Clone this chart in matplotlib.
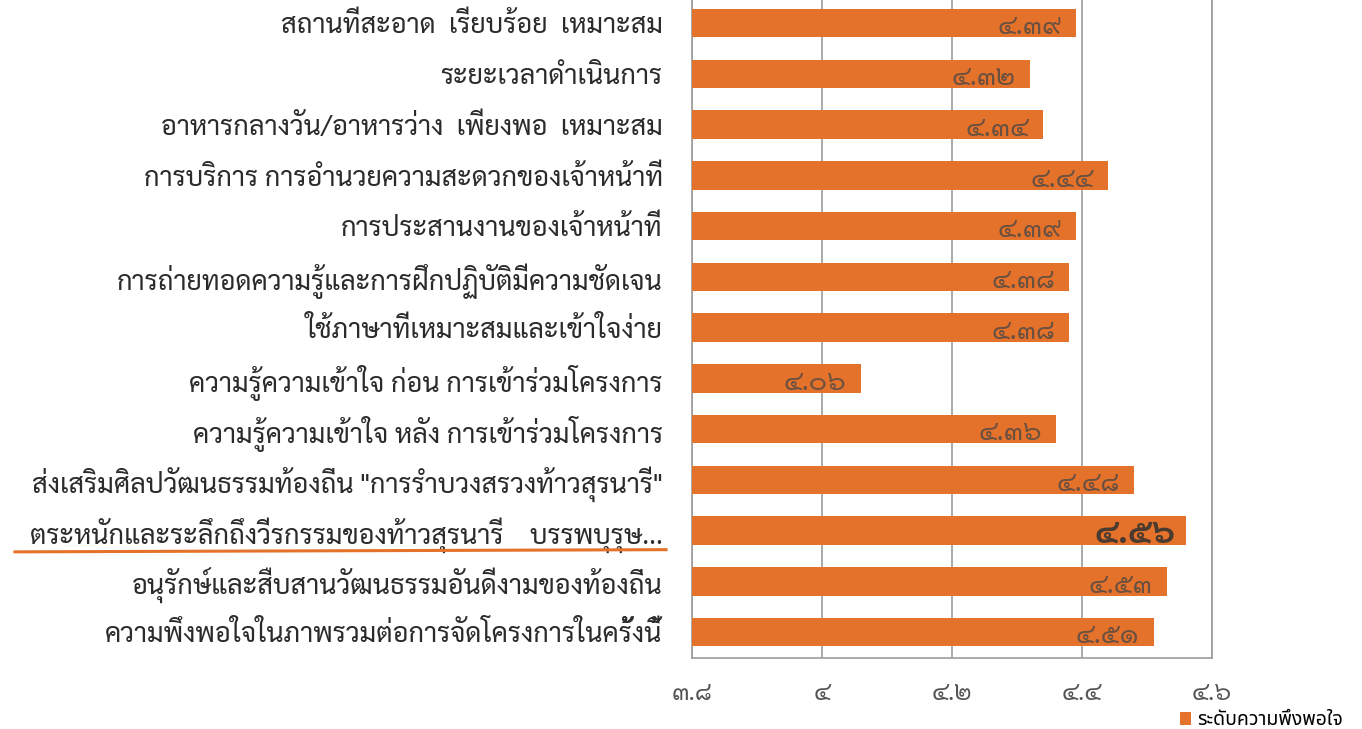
import matplotlib
matplotlib.use("Agg")
import matplotlib.pyplot as plt
from matplotlib.lines import Line2D
from matplotlib.patches import Patch

# data (top to bottom)
categories = [
    "สถานที่สะอาด  เรียบร้อย  เหมาะสม",
    "ระยะเวลาดำเนินการ",
    "อาหารกลางวัน/อาหารว่าง  เพียงพอ  เหมาะสม",
    "การบริการ การอำนวยความสะดวกของเจ้าหน้าที่",
    "การประสานงานของเจ้าหน้าที่",
    "การถ่ายทอดความรู้และการฝึกปฏิบัติมีความชัดเจน",
    "ใช้ภาษาที่เหมาะสมและเข้าใจง่าย",
    "ความรู้ความเข้าใจ ก่อน การเข้าร่วมโครงการ",
    "ความรู้ความเข้าใจ หลัง การเข้าร่วมโครงการ",
    "ส่งเสริมศิลปวัฒนธรรมท้องถิ่น \"การรำบวงสรวงท้าวสุรนารี\"",
    "ตระหนักและระลึกถึงวีรกรรมของท้าวสุรนารี    บรรพบุรุษ...",
    "อนุรักษ์และสืบสานวัฒนธรรมอันดีงามของท้องถิ่น",
    "ความพึงพอใจในภาพรวมต่อการจัดโครงการในครั้งนี้",
]
scores = [4.39, 4.32, 4.34, 4.44, 4.39, 4.38, 4.38, 4.06, 4.36, 4.48, 4.56, 4.53, 4.51]
x_ticks = [3.8, 4.0, 4.2, 4.4, 4.6]
x_tick_labels = ["๓.๘", "๔", "๔.๒", "๔.๔", "๔.๖"]
legend_label = "ระดับความพึงพอใจ"
highlight_index = 10  # the row that is underlined / bold in the scan

thai_digits = str.maketrans("0123456789", "๐๑๒๓๔๕๖๗๘๙")

orange = "#E5722A"
grid_color = "#9C9C9C"

plt.rcParams["font.family"] = ["Sarabun", "Noto Sans Thai", "DejaVu Sans"]

fig = plt.figure(figsize=(13.62, 7.29), dpi=100)
ax = fig.add_axes([0.508, 0.098, 0.382, 0.905])

y = list(range(len(categories)))
ax.barh(y, scores, height=0.56, color=orange, zorder=3)

ax.set_xlim(3.8, 4.6)
ax.set_ylim(len(categories) - 0.5, -0.5)
ax.set_xticks(x_ticks)
ax.set_xticklabels(x_tick_labels, fontsize=18, color="#555555")
ax.tick_params(axis="x", length=0, pad=17)
ax.set_yticks(y)
ax.set_yticklabels(categories, fontsize=19.5, color="#2b2b2b")
ax.tick_params(axis="y", length=0, pad=21)

ax.grid(axis="x", color=grid_color, linewidth=1.2, zorder=0)
for side in ["left", "bottom", "right"]:
    ax.spines[side].set_color(grid_color)
    ax.spines[side].set_linewidth(1.2)
ax.spines["top"].set_visible(False)

# value labels, Thai digits, inside the bar end
for i, v in enumerate(scores):
    txt = f"{v:.2f}".translate(thai_digits)
    if i == highlight_index:
        ax.text(v - 0.016, i + 0.04, txt, ha="right", va="center",
                fontsize=25, fontweight="bold", color="#4a3a30", zorder=4)
    else:
        ax.text(v - 0.022, i + 0.08, txt, ha="right", va="center",
                fontsize=20, color="#6a5040", zorder=4)

# hand-drawn orange underline under the highlighted label
fig.add_artist(Line2D([0.011, 0.489], [0.243, 0.246], color=orange, linewidth=2.2))

handle = Patch(facecolor=orange, edgecolor="none")
fig.legend([handle], [legend_label], loc="lower right", bbox_to_anchor=(0.999, -0.026),
           frameon=False, handlelength=0.6, handleheight=0.7, handletextpad=0.3,
           prop={"family": ["Noto Sans Thai", "DejaVu Sans"], "size": 14})

fig.savefig("out.png", dpi=100)
